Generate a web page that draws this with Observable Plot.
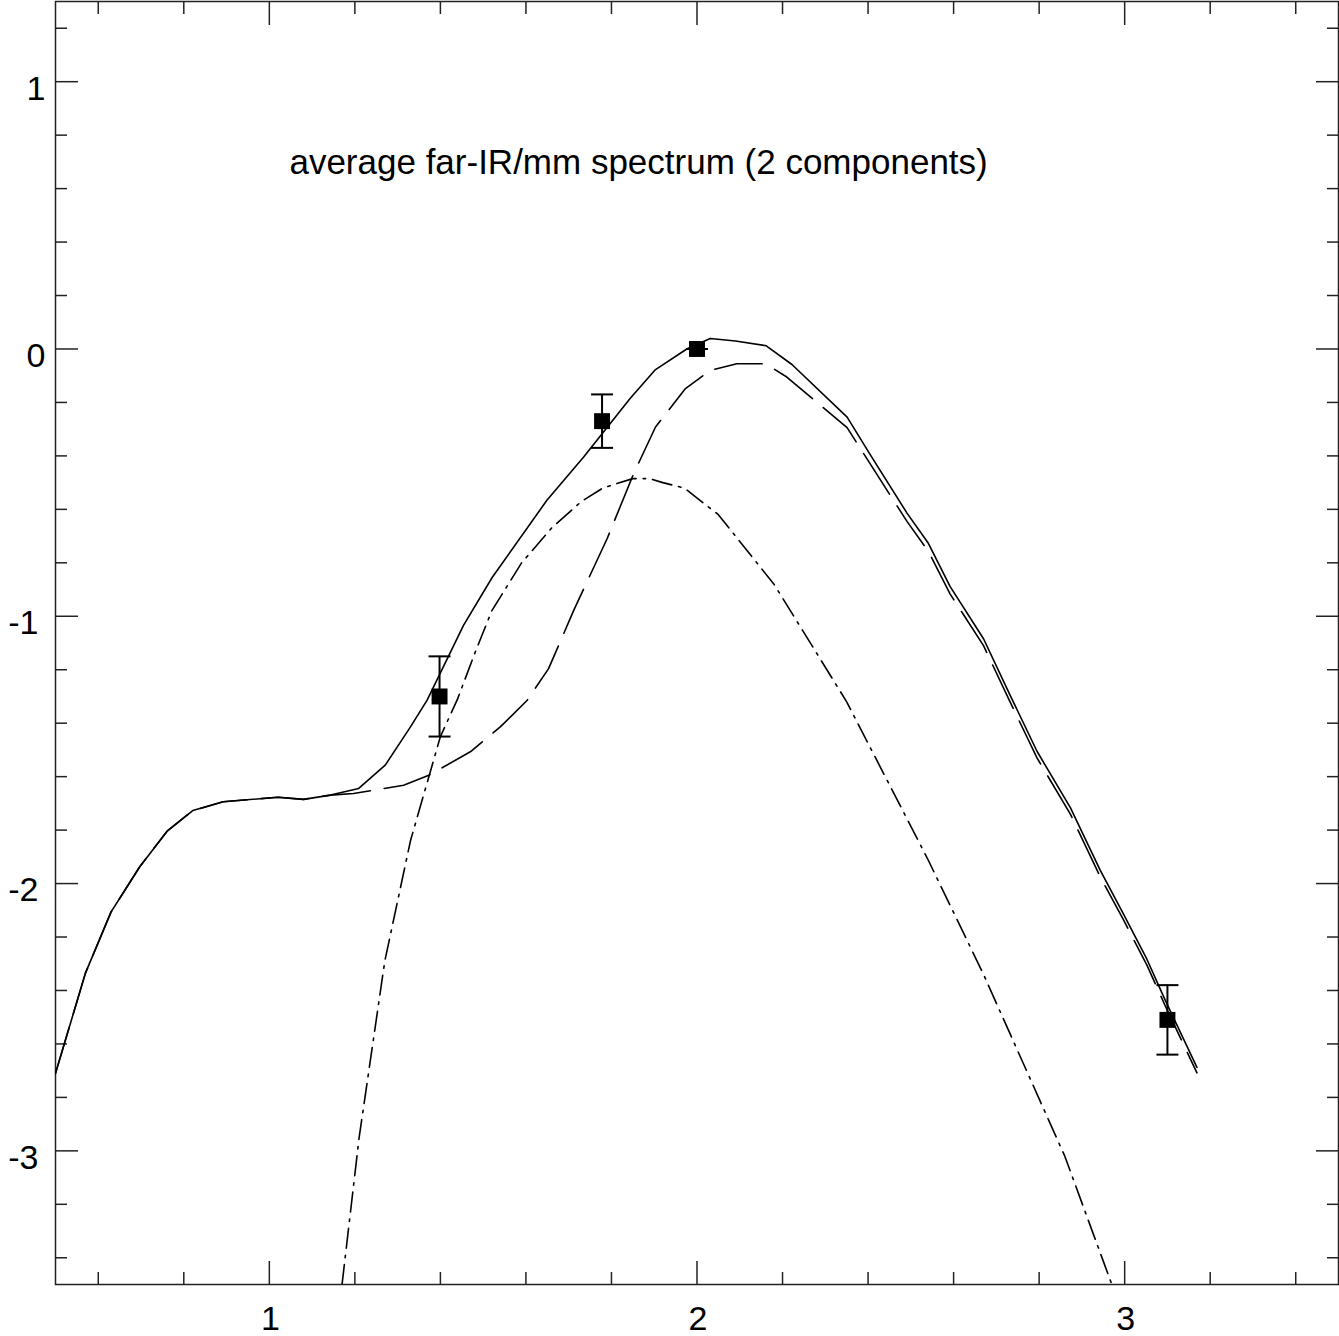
<!DOCTYPE html>
<html>
<head>
<meta charset="utf-8">
<script src="https://cdn.jsdelivr.net/npm/d3@7"></script>
<script src="https://cdn.jsdelivr.net/npm/@observablehq/plot@0.6"></script>
<style>
html, body { margin: 0; padding: 0; background: #fff; overflow: hidden; }
#chart svg { display: block; }
</style>
</head>
<body>
<div id="chart"></div>
<script>
// Total spectrum (solid)
const totalX = [0.50, 0.57, 0.63, 0.697, 0.761, 0.821, 0.892, 1.02, 1.08, 1.143, 1.209, 1.271, 1.33, 1.369, 1.454, 1.521, 1.649, 1.735, 1.844, 1.903, 1.977, 2.031, 2.09, 2.162, 2.222, 2.351, 2.405, 2.491, 2.541, 2.592, 2.67, 2.732, 2.795, 2.873, 2.943, 2.997, 3.052, 3.095, 3.169];
const totalY = [-2.71, -2.335, -2.106, -1.937, -1.804, -1.727, -1.694, -1.677, -1.685, -1.669, -1.644, -1.557, -1.414, -1.314, -1.034, -0.855, -0.566, -0.404, -0.184, -0.077, 0.001, 0.039, 0.03, 0.012, -0.058, -0.255, -0.395, -0.614, -0.727, -0.889, -1.084, -1.295, -1.505, -1.716, -1.951, -2.113, -2.283, -2.437, -2.688];

// Cold component (long dashes)
const coldX = [0.50, 0.57, 0.63, 0.697, 0.761, 0.821, 0.892, 1.02, 1.08, 1.143, 1.197, 1.314, 1.373, 1.47, 1.54, 1.603, 1.653, 1.712, 1.79, 1.852, 1.903, 1.973, 2.031, 2.093, 2.16, 2.21, 2.351, 2.405, 2.491, 2.541, 2.592, 2.67, 2.732, 2.795, 2.873, 2.943, 2.997, 3.052, 3.095, 3.169];
const coldY = [-2.71, -2.335, -2.106, -1.937, -1.804, -1.727, -1.694, -1.677, -1.685, -1.669, -1.663, -1.632, -1.595, -1.507, -1.414, -1.314, -1.196, -0.977, -0.709, -0.466, -0.292, -0.148, -0.080, -0.055, -0.055, -0.105, -0.294, -0.43, -0.645, -0.757, -0.917, -1.11, -1.32, -1.53, -1.74, -1.975, -2.135, -2.305, -2.458, -2.708];

// Warm component (dash-dot)
const warmX = [1.17, 1.21, 1.27, 1.33, 1.40, 1.44, 1.48, 1.52, 1.59, 1.66, 1.73, 1.78, 1.85, 1.89, 1.92, 1.97, 2.05, 2.18, 2.35, 2.54, 2.67, 2.86, 2.97];
const warmY = [-3.50, -2.95, -2.29, -1.84, -1.45, -1.31, -1.14, -0.98, -0.80, -0.67, -0.57, -0.52, -0.485, -0.485, -0.50, -0.52, -0.62, -0.88, -1.32, -1.91, -2.34, -3.02, -3.50];

// Observed points with errors
const obsX = [1.398, 1.778, 2.0, 3.1];
const obsY = [-1.30, -0.27, 0.0, -2.51];
const obsErr = [0.15, 0.10, 0.0, 0.13];

// Ticks
const xMajor = [1, 2, 3];
const xMinor = [0.6, 0.8, 1.2, 1.4, 1.6, 1.8, 2.2, 2.4, 2.6, 2.8, 3.2, 3.4];
const yMajor = [-3, -2, -1, 0, 1];
const yMinor = [-3.4, -3.2, -2.8, -2.6, -2.4, -2.2, -1.8, -1.6, -1.4, -1.2, -0.8, -0.6, -0.4, -0.2, 0.2, 0.4, 0.6, 0.8, 1.2];

const titleText = "average far-IR/mm spectrum (2 components)";
const titleAt = [{x: 1.047, y: 0.695, text: titleText}];

const toRows = (xs, ys) => xs.map((x, i) => ({x, y: ys[i]}));
const total = toRows(totalX, totalY);
const cold = toRows(coldX, coldY);
const warm = toRows(warmX, warmY);
const obs = obsX.map((x, i) => ({x, y: obsY[i], lo: obsY[i] - obsErr[i], hi: obsY[i] + obsErr[i]}));

const capSymbol = {draw(ctx) { ctx.moveTo(-11, 0); ctx.lineTo(11, 0); }};

const FONT = "'Liberation Sans', Arial, Helvetica, sans-serif";
const axisColor = "#222";
const tickStyle = {fill: "none", stroke: axisColor, strokeWidth: 1.5, label: null};
const labelStyle = {tickSize: 0, fontSize: 34, fill: "black", label: null, tickFormat: d => String(d)};

const chart = Plot.plot({
  width: 1339,
  height: 1336,
  marginLeft: 55,
  marginRight: 1,
  marginTop: 1,
  marginBottom: 52,
  style: {fontFamily: FONT, color: "black", background: "white"},
  x: {domain: [0.5, 3.5]},
  y: {domain: [-3.5, 1.3]},
  marks: [
    // inward ticks on all four sides
    Plot.axisX(xMajor, {...tickStyle, anchor: "bottom", tickSize: -23}),
    Plot.axisX(xMinor, {...tickStyle, anchor: "bottom", tickSize: -12}),
    Plot.axisX(xMajor, {...tickStyle, anchor: "top", tickSize: -23}),
    Plot.axisX(xMinor, {...tickStyle, anchor: "top", tickSize: -12}),
    Plot.axisY(yMajor, {...tickStyle, anchor: "left", tickSize: -23}),
    Plot.axisY(yMinor, {...tickStyle, anchor: "left", tickSize: -12}),
    Plot.axisY(yMajor, {...tickStyle, anchor: "right", tickSize: -23}),
    Plot.axisY(yMinor, {...tickStyle, anchor: "right", tickSize: -12}),
    // tick labels
    Plot.axisX(xMajor, {...labelStyle, anchor: "bottom", tickPadding: 21, dx: 1}),
    Plot.axisY(yMajor.filter(d => d >= 0), {...labelStyle, anchor: "left", tickPadding: 10, dy: 7}),
    Plot.axisY(yMajor.filter(d => d < 0), {...labelStyle, anchor: "left", tickPadding: 17, dy: 7}),
    Plot.frame({stroke: axisColor, strokeWidth: 1.5}),
    // curves
    Plot.line(warm, {x: "x", y: "y", stroke: "black", strokeWidth: 1.6, strokeDasharray: "20,7,2.5,7", clip: true}),
    Plot.line(cold, {x: "x", y: "y", stroke: "black", strokeWidth: 1.6, strokeDasharray: "48,14", clip: true}),
    Plot.line(total, {x: "x", y: "y", stroke: "black", strokeWidth: 1.6, clip: true}),
    // error bars and points
    Plot.ruleX(obs, {x: "x", y1: "lo", y2: "hi", stroke: "black", strokeWidth: 2}),
    Plot.dot(obs, {x: "x", y: "lo", symbol: capSymbol, stroke: "black", strokeWidth: 2, fill: "none"}),
    Plot.dot(obs, {x: "x", y: "hi", symbol: capSymbol, stroke: "black", strokeWidth: 2, fill: "none"}),
    Plot.dot(obs, {x: "x", y: "y", symbol: "square", r: 9, fill: "black", stroke: "none"}),
    // annotation
    Plot.text(titleAt, {x: "x", y: "y", text: "text", textAnchor: "start", fontSize: 35, fill: "black"})
  ]
});
document.getElementById("chart").append(chart);
</script>
</body>
</html>
